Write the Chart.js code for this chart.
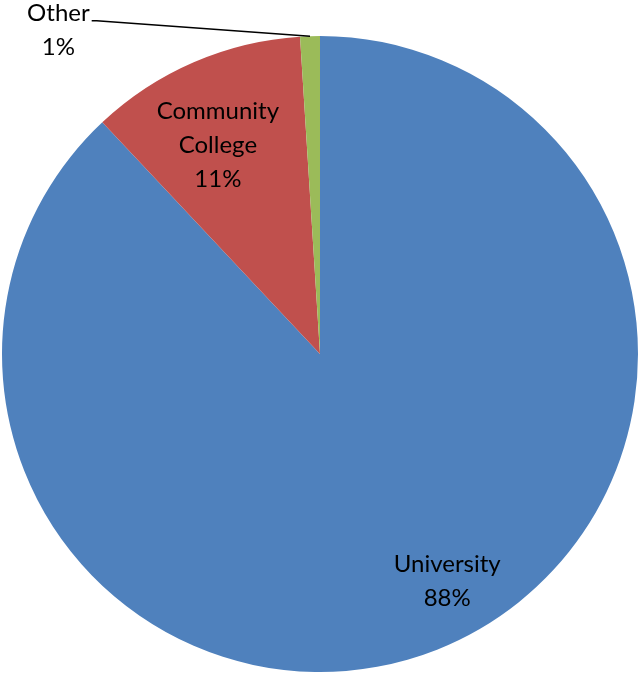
<!DOCTYPE html>
<html>
<head>
<meta charset="utf-8">
<script src="https://cdn.jsdelivr.net/npm/chart.js@4.4.1/dist/chart.umd.min.js"></script>
<style>
  html, body { margin: 0; padding: 0; background: #fff; }
  #wrap { width: 640px; height: 674px; }
</style>
</head>
<body>
<div id="wrap"><canvas id="myChart"></canvas></div>
<script>
// Chart data
const categories = ['University', 'Community College', 'Other'];
const shares = [88, 11, 1];
const labelLines = [['University', '88%'], ['Community', 'College', '11%'], ['Other', '1%']];

// Label placement: angle shift (deg) from slice middle, radius factor, leader line
const labelPlacement = [
    { shift: -7.6, radius: 0.82, leader: false },
    { shift: -2.7, radius: 0.73, leader: false },
    { shift: -37.1, radius: 1.31, leader: true }
];

const sliceLabels = {
    id: 'sliceLabels',
    afterDatasetsDraw(chart) {
        const ctx = chart.ctx;
        const meta = chart.getDatasetMeta(0);
        const fontSize = 24;
        const lineHeight = 34;
        ctx.save();
        ctx.font = fontSize + 'px Lato, "Open Sans", sans-serif';
        ctx.fillStyle = '#000';
        ctx.textAlign = 'center';
        ctx.textBaseline = 'middle';
        meta.data.forEach(function (arc, i) {
            const p = arc.getProps(['x', 'y', 'startAngle', 'endAngle', 'outerRadius'], true);
            const mid = (p.startAngle + p.endAngle) / 2;
            const place = labelPlacement[i];
            const a = mid + place.shift * Math.PI / 180;
            const cx = p.x + Math.cos(a) * p.outerRadius * place.radius;
            const cy = p.y + Math.sin(a) * p.outerRadius * place.radius;
            const lines = labelLines[i];
            const top = cy - (lines.length - 1) * lineHeight / 2;
            lines.forEach(function (t, j) {
                ctx.fillText(t, cx, top + j * lineHeight);
            });
            if (place.leader) {
                const w = ctx.measureText(lines[0]).width;
                const sx = cx + w / 2 + 2;
                const sy = top + 8;
                const ex = p.x + Math.cos(mid) * p.outerRadius;
                const ey = p.y + Math.sin(mid) * p.outerRadius;
                ctx.beginPath();
                ctx.strokeStyle = '#000';
                ctx.lineWidth = 1.5;
                ctx.moveTo(sx, sy);
                ctx.lineTo(sx + 5, sy);
                ctx.lineTo(ex, ey);
                ctx.stroke();
            }
        });
        ctx.restore();
    }
};

new Chart(document.getElementById('myChart'), {
    type: 'pie',
    data: {
        labels: categories,
        datasets: [{
            data: shares,
            backgroundColor: ['#4F81BD', '#C0504D', '#9BBB59'],
            borderWidth: 0
        }]
    },
    options: {
        responsive: true,
        maintainAspectRatio: false,
        animation: false,
        layout: { padding: { top: 36, bottom: 2, left: 2, right: 2 } },
        plugins: {
            legend: { display: false },
            tooltip: { enabled: false }
        }
    },
    plugins: [sliceLabels]
});
</script>
</body>
</html>
